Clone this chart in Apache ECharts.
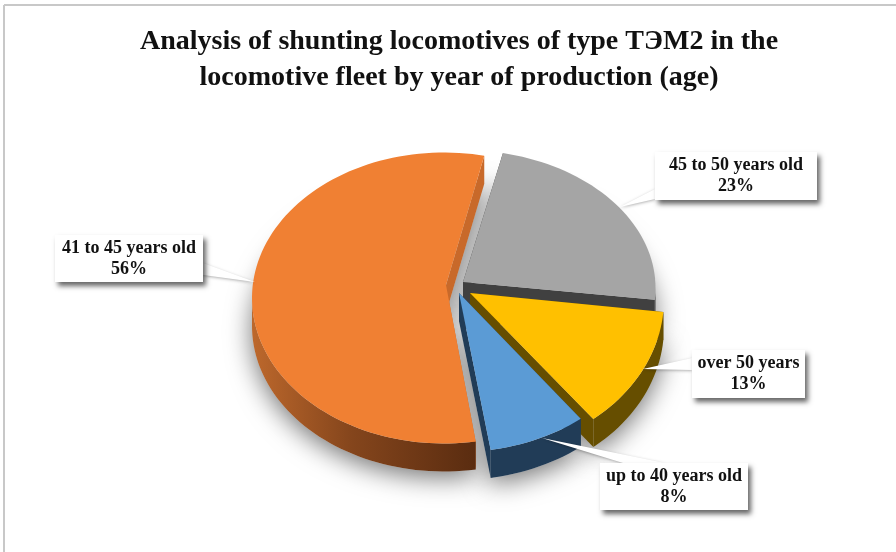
<!DOCTYPE html>
<html>
<head>
<meta charset="utf-8">
<style>
html, body { margin: 0; padding: 0; background: #fff; }
#chart { width: 896px; height: 552px; }
</style>
<script src="https://cdn.jsdelivr.net/npm/echarts@6/dist/echarts.min.js"></script>
</head>
<body>
<div id="chart"></div>
<script>
var titleText = "Analysis of shunting locomotives of type ТЭМ2 in the\nlocomotive fleet by year of production (age)";
var categories = ["up to 40 years old", "41 to 45 years old", "45 to 50 years old", "over 50 years"];
var shares = [8, 56, 23, 13];

// first slice starts here, clockwise from twelve o'clock
var firstAngle = 141.7;
var depth = 28;
var topColors = ["#5b9bd5", "#f08033", "#a5a5a5", "#ffc000"];
var sideColors = ["#213c57", "#c8692a", "#404040", "#664e00"];
// each exploded slice sits on its own ellipse, apex is separate
var sliceLayout = [
	{ cx: 458, cy: 298, rx: 198, ry: 154, ax: 459, ay: 293 },
	{ cx: 444, cy: 298, rx: 192, ry: 145.5, ax: 446, ay: 285 },
	{ cx: 462.5, cy: 288, rx: 193, ry: 138, ax: 463, ay: 282 },
	{ cx: 478, cy: 299, rx: 186, ry: 153, ax: 470, ay: 293 }
];
var labelLayout = [
	{ x: 600, y: 463, w: 148, h: 47, wedge: [[542, 438], [623, 463], [665, 463]] },
	{ x: 55, y: 235, w: 148, h: 47, wedge: [[203, 263], [203, 275], [255, 282]] },
	{ x: 655, y: 152, w: 162, h: 48, wedge: [[655, 189], [655, 199], [620, 207]] },
	{ x: 692, y: 350, w: 113, h: 48, wedge: [[692, 358], [692, 370], [643, 369]] }
];
var drawOrder = [1, 2, 3, 0];

function sliceAngles(i) {
	var before = 0;
	for (var k = 0; k < i; k++) before += shares[k];
	return [firstAngle + before * 3.6, firstAngle + (before + shares[i]) * 3.6];
}

function arcPoints(l, a0, a1, shift) {
	var pts = [];
	for (var a = a0; a < a1; a += 2) {
		var r = a * Math.PI / 180;
		pts.push([l.cx + l.rx * Math.sin(r), l.cy - l.ry * Math.cos(r) + shift]);
	}
	var e = a1 * Math.PI / 180;
	pts.push([l.cx + l.rx * Math.sin(e), l.cy - l.ry * Math.cos(e) + shift]);
	return pts;
}

function renderShadow(params, api) {
	var i = api.value(0);
	var l = sliceLayout[i];
	var ang = sliceAngles(i);
	var lower = arcPoints(l, ang[0], ang[1], depth);
	return {
		type: "polygon",
		shape: { points: [[l.ax, l.ay + depth]].concat(lower) },
		style: {
			fill: "#d0d0d0",
			shadowBlur: 26,
			shadowOffsetY: 6,
			shadowColor: "rgba(0,0,0,0.55)"
		},
		silent: true
	};
}

function renderSlice(params, api) {
	var i = api.value(0);
	var l = sliceLayout[i];
	var ang = sliceAngles(i);
	var top = arcPoints(l, ang[0], ang[1], 0);
	var first = top[0], last = top[top.length - 1];
	// only the front half of the rim can be seen, angles past 360 wrap round
	var wrap = ang[1] > 450 ? 360 : 0;
	var rimFrom = Math.max(ang[0], 90 + wrap), rimTo = Math.min(ang[1], 270 + wrap);
	var rimTop = arcPoints(l, rimFrom, rimTo, 0);
	var rimLow = arcPoints(l, rimFrom, rimTo, depth);
	var outerFill = sideColors[i];
	if (i === 1) {
		outerFill = new echarts.graphic.LinearGradient(0, 0, 1, 0, [
			{ offset: 0, color: "#bd682c" },
			{ offset: 0.45, color: "#84451c" },
			{ offset: 1, color: "#5a2c10" }
		]);
	}
	function edge(p) {
		return {
			type: "polygon",
			shape: { points: [[l.ax, l.ay], p, [p[0], p[1] + depth], [l.ax, l.ay + depth]] },
			style: { fill: sideColors[i] }
		};
	}
	return {
		type: "group",
		silent: true,
		children: [
			edge(first),
			edge(last),
			{
				type: "polygon",
				shape: { points: rimTop.concat(rimLow.slice().reverse()) },
				style: { fill: outerFill }
			},
			{
				type: "polygon",
				shape: { points: [[l.ax, l.ay]].concat(top) },
				style: { fill: topColors[i] }
			}
		]
	};
}

function renderLabel(params, api) {
	var i = api.value(0);
	var b = labelLayout[i];
	return {
		type: "group",
		silent: true,
		children: [
			{
				type: "polygon",
				shape: { points: b.wedge },
				style: { fill: "#fff", shadowBlur: 3, shadowOffsetY: 1, shadowColor: "rgba(0,0,0,0.3)" }
			},
			{
				type: "rect",
				shape: { x: b.x, y: b.y, width: b.w, height: b.h },
				style: { fill: "#fff", shadowBlur: 5, shadowOffsetX: 3, shadowOffsetY: 4, shadowColor: "rgba(0,0,0,0.6)" }
			},
			{
				type: "text",
				style: {
					text: categories[i] + "\n" + shares[i] + "%",
					x: b.x + b.w / 2,
					y: b.y + b.h / 2,
					align: "center",
					verticalAlign: "middle",
					font: 'bold 18px "Liberation Serif"',
					lineHeight: 21,
					fill: "#111"
				}
			}
		]
	};
}

var orderData = drawOrder.map(function (i) { return [i]; });

var myChart = echarts.init(document.getElementById("chart"), null, { renderer: "canvas" });
myChart.setOption({
	animation: false,
	backgroundColor: "#fff",
	title: {
		text: titleText,
		left: 454,
		top: 19,
		textAlign: "center",
		textStyle: {
			fontFamily: "Liberation Serif",
			fontWeight: "bold",
			fontSize: 28,
			lineHeight: 36,
			color: "#111"
		}
	},
	graphic: [
		{ type: "line", shape: { x1: 4, y1: 5, x2: 896, y2: 5 }, style: { stroke: "#c8c8c8", lineWidth: 2 } },
		{ type: "line", shape: { x1: 4, y1: 5, x2: 4, y2: 552 }, style: { stroke: "#c8c8c8", lineWidth: 2 } }
	],
	series: [
		{ type: "custom", coordinateSystem: "none", renderItem: renderShadow, data: orderData, z: 1 },
		{ type: "custom", coordinateSystem: "none", renderItem: renderSlice, data: orderData, z: 2 },
		{ type: "custom", coordinateSystem: "none", renderItem: renderLabel, data: orderData, z: 3 }
	]
});
</script>
</body>
</html>
